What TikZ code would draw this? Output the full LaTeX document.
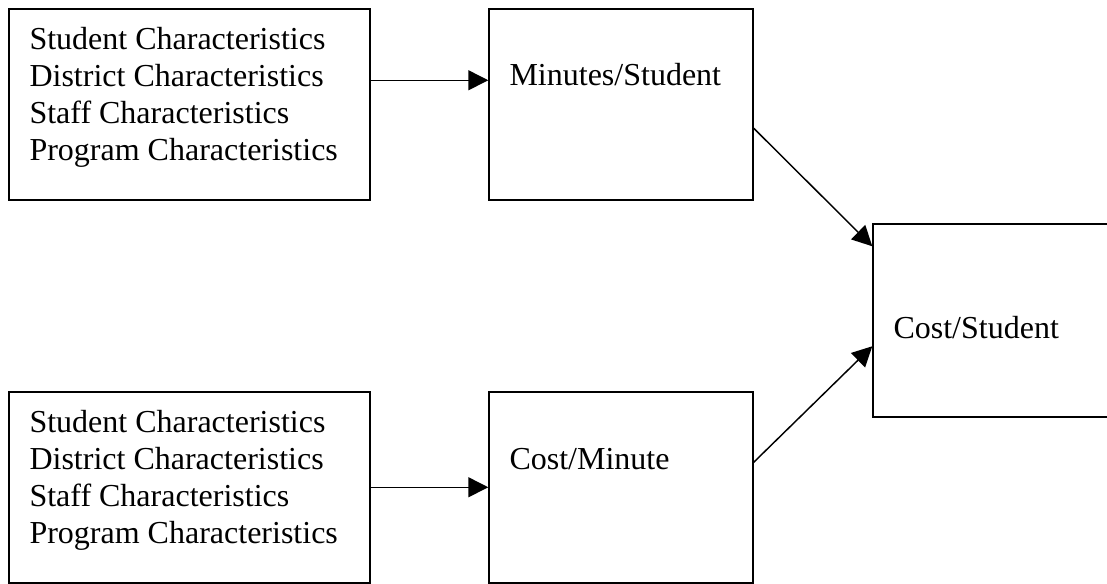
\documentclass[tikz,border=0pt]{standalone}
\usepackage{fontspec}
\setmainfont{Liberation Serif}
\usetikzlibrary{arrows.meta}
\usetikzlibrary{calc}

\tikzset{
  box/.style={draw, line width=1.1pt, rectangle, inner sep=0pt, minimum height=143.25pt},
  boxtext/.style={anchor=north west, inner sep=0pt, align=left, font=\fontsize{24}{27.75}\selectfont},
  flow/.style={-{Triangle[length=15pt,width=15pt]}, line width=1.1pt}
}

\begin{document}
\begin{tikzpicture}[x=0.75pt, y=-0.75pt]
          \useasboundingbox (0,0) rectangle (1107,584);
          \clip (0,0) rectangle (1107,584);

          % boxes, upper row
          \node[box, minimum width=270.75pt] (chartop) at (189.5,104.5) {};
          \node[box, minimum width=198pt] (minstud) at (621,104.5) {};
          % boxes, lower row
          \node[box, minimum width=270.75pt] (charbot) at (189.5,487.5) {};
          \node[box, minimum width=198pt] (costmin) at (621,487.5) {};
          % result box, runs off the right edge
          \node[box, minimum width=200.25pt, minimum height=144.75pt] (coststud) at (1006.5,320.5) {};

          \node[boxtext] (chartoptext) at ($(chartop.north west)+(21,19)$)
          {Student Characteristics\\District Characteristics\\Staff Characteristics\\Program Characteristics};
          \node[boxtext] (charbottext) at ($(charbot.north west)+(21,19)$)
          {Student Characteristics\\District Characteristics\\Staff Characteristics\\Program Characteristics};
          \node[boxtext] (minstudtext) at ($(minstud.north west)+(21,55)$) {Minutes/Student};
          \node[boxtext] (costmintext) at ($(costmin.north west)+(21,57)$) {Cost/Minute};
          \node[boxtext] (coststudtext) at ($(coststud.north west)+(21,93)$) {Cost/Student};

          \draw [flow] ($(chartop.north east)+(0,72)$) -- ($(minstud.north west)+(0,72)$);
          \draw [flow] ($(charbot.north east)+(0,96)$) -- ($(costmin.north west)+(0,96)$);
          \draw [flow] ($(minstud.north east)+(0,120)$) -- ($(coststud.north west)+(0,23)$);
          \draw [flow] ($(costmin.north east)+(0,71)$) -- ($(coststud.north west)+(0,123)$);

\end{tikzpicture}
\end{document}
